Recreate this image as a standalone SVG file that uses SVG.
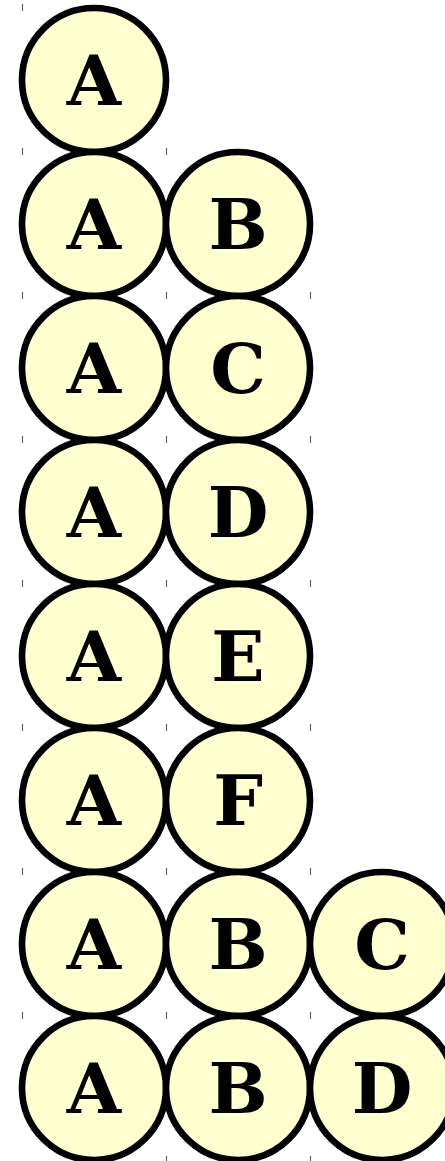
<svg xmlns="http://www.w3.org/2000/svg" width="445" height="1161" viewBox="0 0 445 1161">
<style>
.n circle{fill:#ffffd0;stroke:#000;stroke-width:6.6}
.n text{font-family:"DejaVu Serif","Liberation Serif",serif;font-weight:bold;font-size:70px;text-anchor:middle;fill:#000}
.t line{stroke:#666;stroke-width:1.2}
</style>
<rect width="445" height="1161" fill="#fff"/>
<g id="ticks" class="t">
<line x1="22.5" y1="4" x2="22.5" y2="11"/>
<line x1="22.5" y1="148" x2="22.5" y2="155"/><line x1="166.5" y1="148" x2="166.5" y2="155"/>
<line x1="22.5" y1="292" x2="22.5" y2="299"/><line x1="166.5" y1="292" x2="166.5" y2="299"/><line x1="310.5" y1="292" x2="310.5" y2="299"/>
<line x1="22.5" y1="436" x2="22.5" y2="443"/><line x1="166.5" y1="436" x2="166.5" y2="443"/><line x1="310.5" y1="436" x2="310.5" y2="443"/>
<line x1="22.5" y1="580" x2="22.5" y2="587"/><line x1="166.5" y1="580" x2="166.5" y2="587"/><line x1="310.5" y1="580" x2="310.5" y2="587"/>
<line x1="22.5" y1="724" x2="22.5" y2="731"/><line x1="166.5" y1="724" x2="166.5" y2="731"/><line x1="310.5" y1="724" x2="310.5" y2="731"/>
<line x1="22.5" y1="868" x2="22.5" y2="875"/><line x1="166.5" y1="868" x2="166.5" y2="875"/><line x1="310.5" y1="868" x2="310.5" y2="875"/>
<line x1="22.5" y1="1012" x2="22.5" y2="1019"/><line x1="166.5" y1="1012" x2="166.5" y2="1019"/><line x1="310.5" y1="1012" x2="310.5" y2="1019"/>
<line x1="166.5" y1="1156" x2="166.5" y2="1161"/><line x1="310.5" y1="1156" x2="310.5" y2="1161"/>
</g>
<g id="connectors"></g>
<g id="r0a" class="n"><circle cx="94" cy="80" r="72"/><text x="94" y="105">A</text></g>
<g id="r1a" class="n"><circle cx="94" cy="224" r="72"/><text x="94" y="249">A</text></g>
<g id="r1b" class="n"><circle cx="238" cy="224" r="72"/><text x="238" y="249">B</text></g>
<g id="r2a" class="n"><circle cx="94" cy="368" r="72"/><text x="94" y="393">A</text></g>
<g id="r2c" class="n"><circle cx="238" cy="368" r="72"/><text x="238" y="393">C</text></g>
<g id="r3a" class="n"><circle cx="94" cy="512" r="72"/><text x="94" y="537">A</text></g>
<g id="r3d" class="n"><circle cx="238" cy="512" r="72"/><text x="238" y="537">D</text></g>
<g id="r4a" class="n"><circle cx="94" cy="656" r="72"/><text x="94" y="681">A</text></g>
<g id="r4e" class="n"><circle cx="238" cy="656" r="72"/><text x="238" y="681">E</text></g>
<g id="r5a" class="n"><circle cx="94" cy="800" r="72"/><text x="94" y="825">A</text></g>
<g id="r5f" class="n"><circle cx="238" cy="800" r="72"/><text x="238" y="825">F</text></g>
<g id="r6a" class="n"><circle cx="94" cy="944" r="72"/><text x="94" y="969">A</text></g>
<g id="r6b" class="n"><circle cx="238" cy="944" r="72"/><text x="238" y="969">B</text></g>
<g id="r6c" class="n"><circle cx="382" cy="944" r="72"/><text x="382" y="969">C</text></g>
<g id="r7a" class="n"><circle cx="94" cy="1088" r="72"/><text x="94" y="1113">A</text></g>
<g id="r7b" class="n"><circle cx="238" cy="1088" r="72"/><text x="238" y="1113">B</text></g>
<g id="r7d" class="n"><circle cx="382" cy="1088" r="72"/><text x="382" y="1113">D</text></g>
</svg>
